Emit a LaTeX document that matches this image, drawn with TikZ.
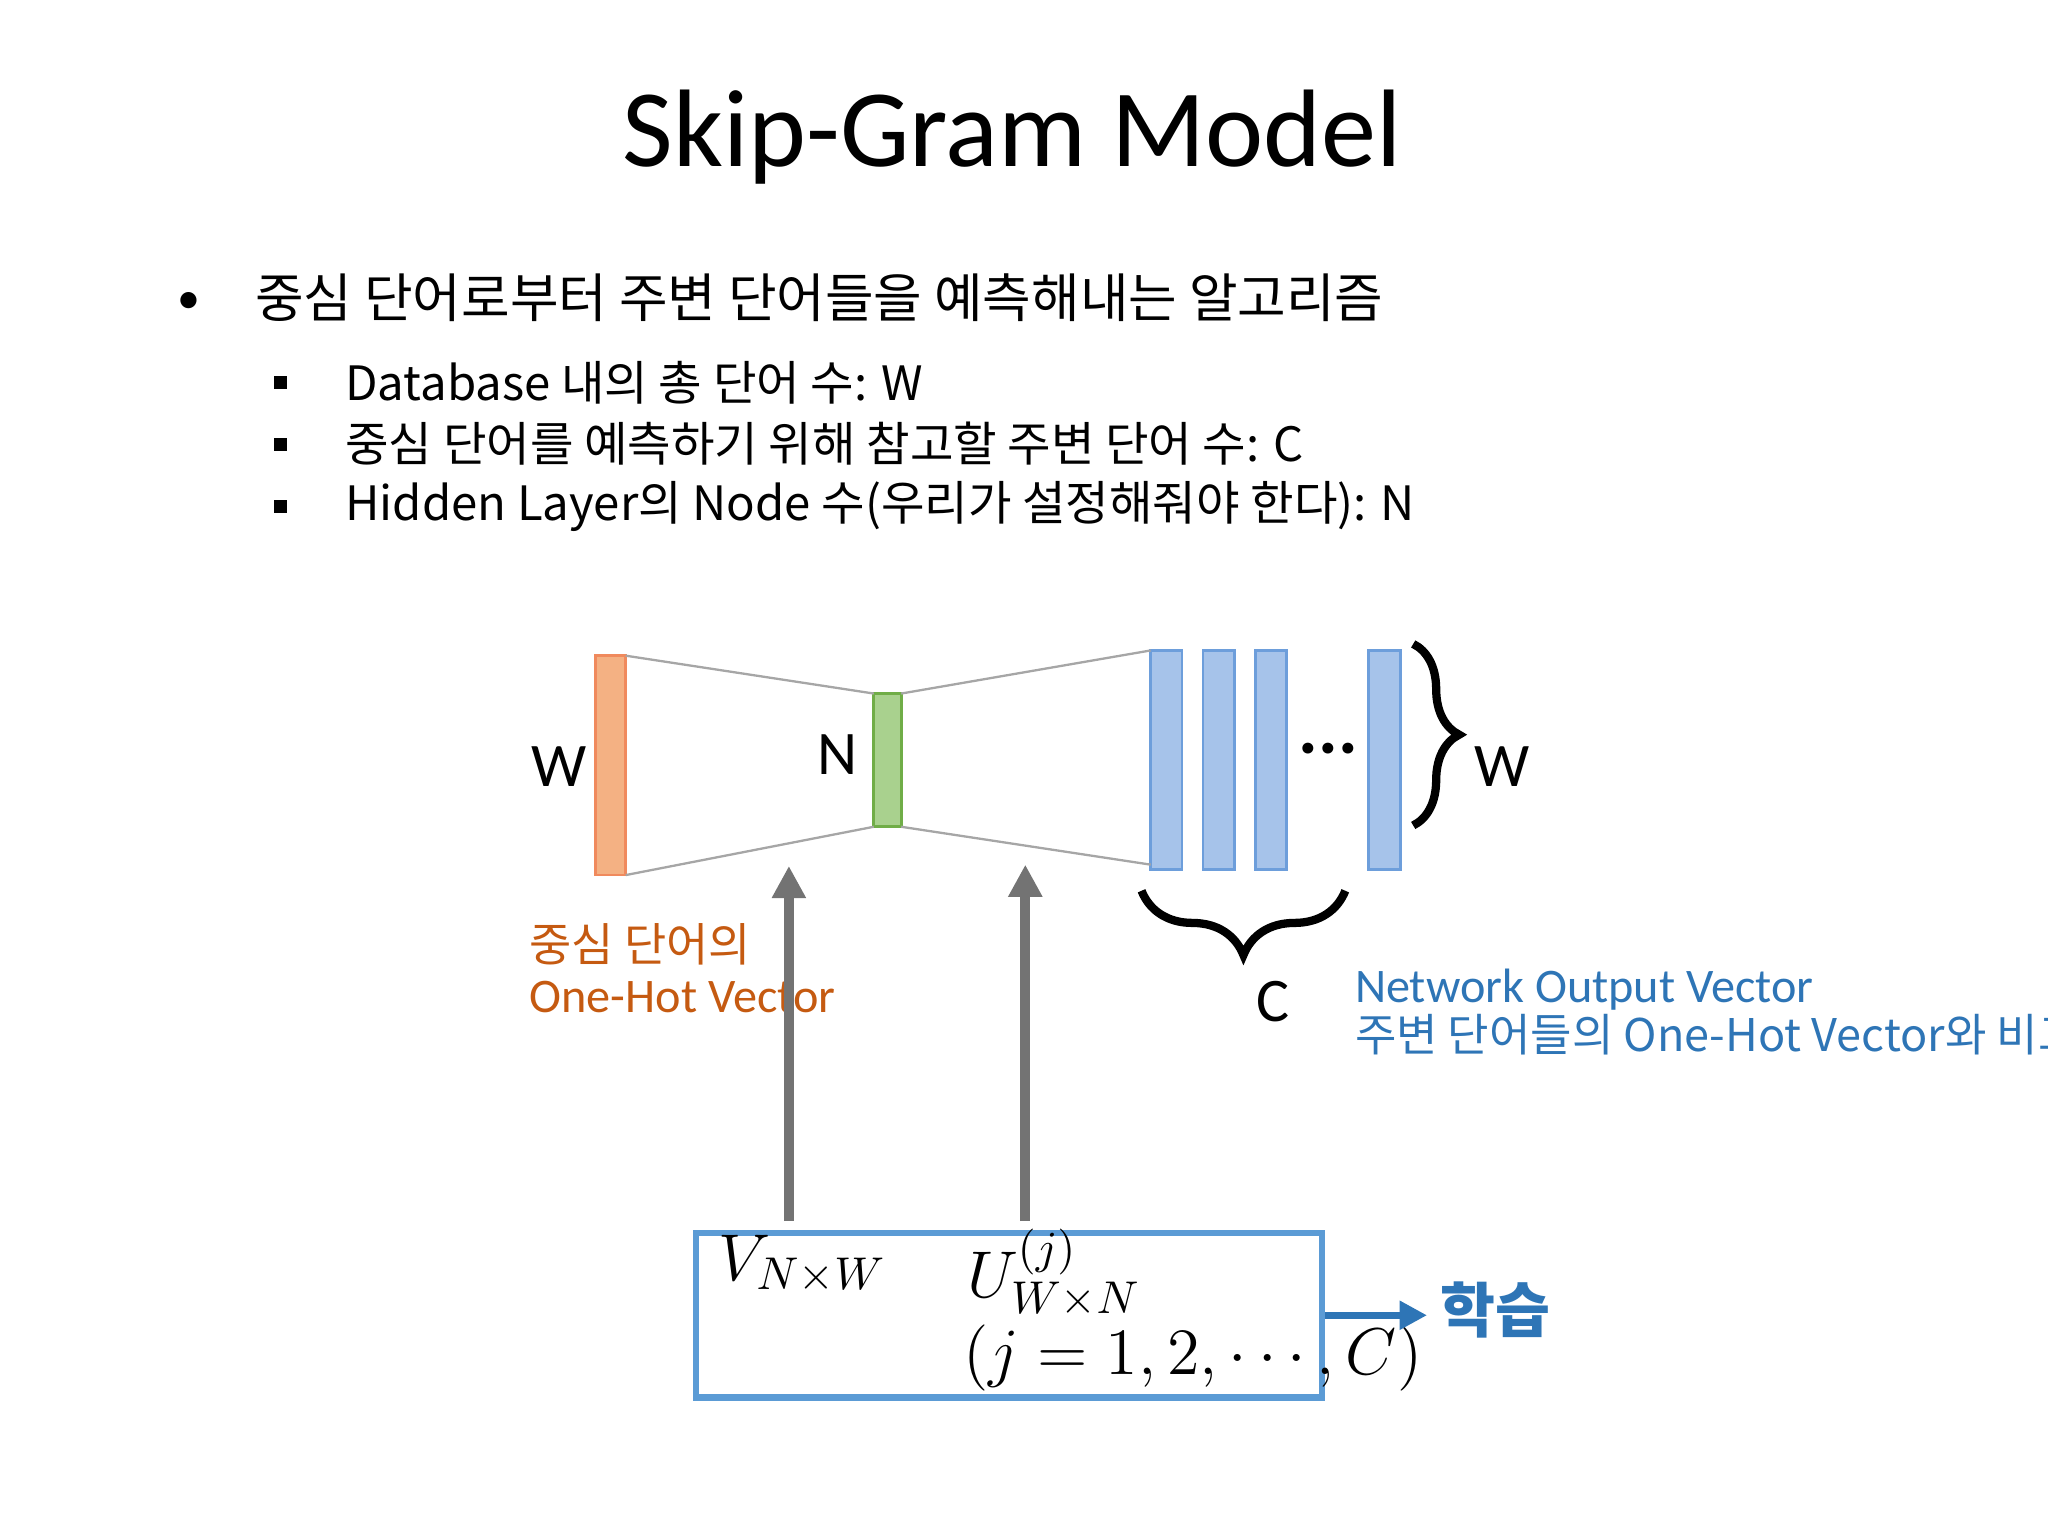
\documentclass[tikz,border=0pt]{standalone}
\usepackage{fontspec}
\setmainfont{Carlito}
\newfontfamily\kr{Noto Sans CJK KR}
\usetikzlibrary{arrows.meta,decorations.pathreplacing}
\definecolor{orf}{HTML}{F4B183}\definecolor{ord}{HTML}{F08A5D}
\definecolor{grf}{HTML}{A9D18E}\definecolor{grd}{HTML}{70AD47}
\definecolor{blf}{HTML}{A6C3EA}\definecolor{bld}{HTML}{6D9EDB}
\definecolor{ortx}{HTML}{C55A11}\definecolor{bltx}{HTML}{2E75B6}
\definecolor{boxb}{HTML}{5B9BD5}
\tikzset{orbar/.style={fill=orf,draw=ord,line width=0.6pt},
grbar/.style={fill=grf,draw=grd,line width=0.6pt},
blbar/.style={fill=blf,draw=bld,line width=0.6pt},
thin gray/.style={draw=gray!70,line width=0.5pt},
uparrow/.style={draw=gray!90!black,line width=2.2pt,-{Triangle[length=7pt,width=7pt]}},
lbl/.style={font=\fontsize{13.5}{16}\selectfont},
mth/.style={anchor=west,font=\fontsize{14}{16}\selectfont}}
\begin{document}
\begin{tikzpicture}[x=0.01cm,y=-0.01cm]
\useasboundingbox (0,0) rectangle (1568,1176);
\node (title) at (775,105) {\fontsize{24}{28}\selectfont Skip-Gram Model};
\node (b0) at (145,232) {\fontsize{10}{12}\selectfont •};
\node[anchor=west] (t0) at (183,228) {\kr\fontsize{11.5}{14}\selectfont 중심 단어로부터 주변 단어들을 예측해내는 알고리즘};
\foreach \y/\t in {293/{Database 내의 총 단어 수: W},340/{중심 단어를 예측하기 위해 참고할 주변 단어 수: C},388/{Hidden Layer의 Node 수(우리가 설정해줘야 한다): N}}{
 \fill (210,\y-5) rectangle (220,\y+5);
 \node[anchor=west] at (252,\y) {\kr\fontsize{10.3}{12}\selectfont \t};}
\draw[orbar] (456,502) rectangle (479,670);
\draw[grbar] (669,531) rectangle (690,633);
\foreach \x in {881,921,961,1048}{\draw[blbar] (\x,498) rectangle (\x+24,666);}
\draw[thin gray] (479,502)--(669,531) (479,670)--(669,633) (690,531)--(881,498) (690,633)--(881,662);
\node[lbl] (lw) at (428,587) {W};
\node[lbl] (ln) at (641,578) {N};
\node (dots) at (1017,573) {\fontsize{16}{16}\selectfont\bfseries ...};
\draw[decorate,decoration={brace,amplitude=10pt},line width=1.8pt] (1082,493) -- (1082,632);
\node[lbl] (rw) at (1150,587) {W};
\draw[decorate,decoration={brace,amplitude=14pt},line width=1.8pt] (1030,682) -- (874,682);
\node[lbl] (lc) at (975,767) {C};
\node[anchor=west,text=ortx] at (393,723) {\kr\fontsize{10}{12}\selectfont 중심 단어의};
\node[anchor=west,text=ortx] at (393,763) {\fontsize{10.5}{12}\selectfont One-Hot Vector};
\node[anchor=west,text=bltx] at (1025,758) {\fontsize{10.5}{12}\selectfont Network Output Vector};
\node[anchor=west,text=bltx] at (1025,792) {\kr\fontsize{9.8}{12}\selectfont 주변 단어들의 One-Hot Vector와 비교};
\node[draw=boxb,line width=1.4pt,minimum width=4.79cm,minimum height=1.26cm] (box) at (772.5,1007) {};
\node[mth] at (538,968) {$V_{N\times W}$};
\node[mth] at (728,975) {$U^{(j)}_{W\times N}$};
\node[mth] at (725,1040) {$(j=1,2,\cdots,C)$};
\coordinate (a1s) at (604,935); \coordinate (a1e) at (604,663);
\coordinate (a2s) at (785,935); \coordinate (a2e) at (785,662);
\draw[uparrow] (a1s)--(a1e);
\draw[uparrow] (a2s)--(a2e);
\node[text=bltx,font=\kr\bfseries\fontsize{13}{15}\selectfont] (learn) at (1145,1003) {학습};
\draw[bltx,line width=1.5pt,-{Triangle[length=6pt,width=6pt]}] (box.east) -- ++(78,0) coordinate (ae);
\end{tikzpicture}
\end{document}
